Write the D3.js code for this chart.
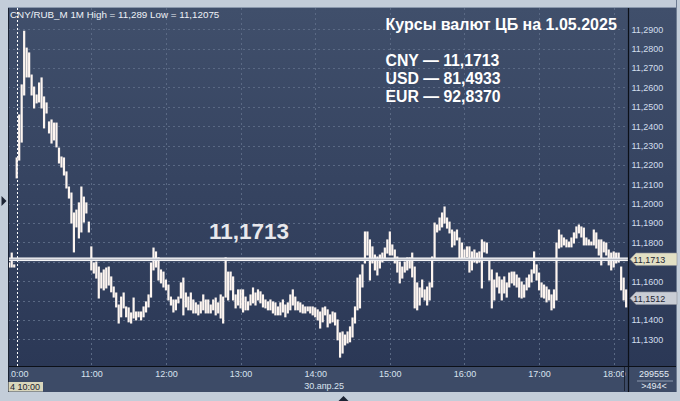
<!DOCTYPE html>
<html><head><meta charset="utf-8">
<script src="https://cdn.jsdelivr.net/npm/d3@7"></script>
<style>html,body{margin:0;padding:0;background:#c3cdd9;overflow:hidden}</style>
</head><body><svg id="c" width="680" height="401"></svg>
<script>
// ---------- data ----------
const startTime = "09:54";        // first 2-minute bar
const barStepMinutes = 2;
const barHigh = [
11.1694,11.1745,11.1684,11.2236,11.2458,11.2613,11.2890,11.2803,11.2778,11.2664,
11.2602,11.2561,11.2623,11.2649,11.2551,11.2520,11.2422,11.2432,11.2416,11.2416,
11.2287,11.2241,11.2236,11.2164,11.2086,11.2055,11.1952,11.1967,11.2004,11.2086,
11.2034,11.2004,11.1905,11.1777,11.1694,11.1699,11.1673,11.1642,11.1658,11.1668,
11.1673,11.1622,11.1570,11.1539,11.1477,11.1518,11.1539,11.1467,11.1462,11.1436,
11.1513,11.1441,11.1441,11.1441,11.1467,11.1493,11.1529,11.1694,11.1771,11.1751,
11.1720,11.1658,11.1647,11.1606,11.1580,11.1518,11.1503,11.1503,11.1518,11.1591,
11.1616,11.1539,11.1518,11.1539,11.1503,11.1488,11.1477,11.1493,11.1529,11.1503,
11.1503,11.1477,11.1503,11.1513,11.1488,11.1529,11.1518,11.1720,11.1647,11.1647,
11.1622,11.1529,11.1555,11.1555,11.1555,11.1518,11.1493,11.1529,11.1565,11.1539,
11.1555,11.1545,11.1529,11.1503,11.1493,11.1503,11.1493,11.1488,11.1467,11.1488,
11.1503,11.1477,11.1488,11.1529,11.1555,11.1518,11.1493,11.1488,11.1477,11.1467,
11.1467,11.1467,11.1467,11.1462,11.1452,11.1441,11.1462,11.1467,11.1452,11.1426,
11.1441,11.1436,11.1400,11.1333,11.1338,11.1322,11.1338,11.1364,11.1410,11.1467,
11.1616,11.1632,11.1684,11.1854,11.1854,11.1813,11.1777,11.1735,11.1725,11.1735,
11.1745,11.1771,11.1813,11.1854,11.1787,11.1761,11.1725,11.1699,11.1673,11.1699,
11.1720,11.1720,11.1745,11.1673,11.1591,11.1565,11.1606,11.1555,11.1570,11.1591,
11.1725,11.1900,11.1890,11.1926,11.1952,11.1983,11.1926,11.1905,11.1864,11.1854,
11.1864,11.1823,11.1797,11.1761,11.1777,11.1777,11.1751,11.1761,11.1745,11.1751,
11.1813,11.1802,11.1797,11.1709,11.1658,11.1606,11.1642,11.1622,11.1606,11.1622,
11.1591,11.1642,11.1647,11.1647,11.1632,11.1616,11.1596,11.1580,11.1616,11.1632,
11.1658,11.1751,11.1684,11.1642,11.1591,11.1580,11.1570,11.1555,11.1529,11.1555,
11.1797,11.1864,11.1838,11.1823,11.1813,11.1802,11.1823,11.1849,11.1880,11.1890,
11.1880,11.1874,11.1823,11.1813,11.1802,11.1864,11.1849,11.1813,11.1813,11.1802,
11.1797,11.1761,11.1745,11.1751,11.1745,11.1745,11.1673,11.1616,11.1555
];
const barLow = [
11.1673,11.1673,11.1673,11.2133,11.2225,11.2318,11.2561,11.2654,11.2654,11.2561,
11.2494,11.2520,11.2525,11.2494,11.2391,11.2468,11.2365,11.2313,11.2329,11.2293,
11.2210,11.2189,11.2148,11.2081,11.2029,11.1900,11.1751,11.1880,11.1823,11.1854,
11.1905,11.1952,11.1854,11.1658,11.1642,11.1616,11.1513,11.1565,11.1555,11.1565,
11.1580,11.1545,11.1518,11.1467,11.1384,11.1416,11.1462,11.1416,11.1390,11.1384,
11.1410,11.1400,11.1416,11.1400,11.1416,11.1441,11.1467,11.1518,11.1658,11.1673,
11.1606,11.1591,11.1570,11.1555,11.1503,11.1477,11.1441,11.1452,11.1488,11.1513,
11.1426,11.1467,11.1452,11.1452,11.1436,11.1436,11.1426,11.1436,11.1452,11.1436,
11.1436,11.1436,11.1452,11.1426,11.1436,11.1410,11.1384,11.1518,11.1503,11.1555,
11.1503,11.1462,11.1477,11.1462,11.1441,11.1452,11.1452,11.1477,11.1488,11.1477,
11.1503,11.1488,11.1467,11.1462,11.1452,11.1452,11.1436,11.1426,11.1426,11.1426,
11.1441,11.1416,11.1436,11.1452,11.1477,11.1452,11.1452,11.1441,11.1436,11.1436,
11.1447,11.1436,11.1426,11.1416,11.1400,11.1358,11.1390,11.1426,11.1364,11.1384,
11.1390,11.1374,11.1297,11.1208,11.1229,11.1271,11.1281,11.1287,11.1312,11.1384,
11.1452,11.1462,11.1570,11.1694,11.1735,11.1606,11.1694,11.1658,11.1632,11.1668,
11.1699,11.1709,11.1745,11.1735,11.1735,11.1694,11.1647,11.1591,11.1616,11.1647,
11.1658,11.1668,11.1622,11.1462,11.1452,11.1477,11.1518,11.1503,11.1477,11.1503,
11.1570,11.1709,11.1854,11.1864,11.1880,11.1900,11.1874,11.1849,11.1777,11.1787,
11.1813,11.1709,11.1720,11.1709,11.1725,11.1647,11.1658,11.1699,11.1694,11.1699,
11.1565,11.1751,11.1745,11.1606,11.1462,11.1503,11.1570,11.1539,11.1503,11.1539,
11.1518,11.1570,11.1591,11.1580,11.1570,11.1518,11.1513,11.1518,11.1555,11.1570,
11.1596,11.1642,11.1606,11.1555,11.1518,11.1513,11.1493,11.1503,11.1452,11.1462,
11.1503,11.1771,11.1777,11.1787,11.1777,11.1777,11.1777,11.1797,11.1823,11.1849,
11.1828,11.1787,11.1787,11.1787,11.1787,11.1787,11.1771,11.1735,11.1684,11.1751,
11.1735,11.1684,11.1658,11.1673,11.1694,11.1699,11.1555,11.1503,11.1467
];
const yTicks = [11.13,11.14,11.15,11.16,11.17,11.18,11.19,11.20,11.21,11.22,11.23,11.24,11.25,11.26,11.27,11.28,11.29];
const hourLabels = ["10:00","11:00","12:00","13:00","14:00","15:00","16:00","17:00","18:00"];
const dateLabel = "30.апр.25";
const cursorLabel = "4 10:00";
const cbrRate = 11.1713;
const lastClose = 11.1512;
const headerText = "CNY/RUB_M 1M High = 11,289 Low = 11,12075";
const titleText = "Курсы валют ЦБ на 1.05.2025";
const rateLines = ["CNY — 11,1713", "USD — 81,4933", "EUR — 92,8370"];
const barCountText = "299555";
const visibleBarsText = ">494<";

// ---------- layout ----------
const svg = d3.select("#c");
const FONT = "'Liberation Sans', Arial, sans-serif";
const L = 8, R = 628, T = 8, B = 366, PR = 677, PB = 392;
const parseT = d3.timeParse("%H:%M");
const t0 = parseT(startTime);
const bars = barHigh.map((h, i) => ({ t: d3.timeMinute.offset(t0, i * barStepMinutes), h, l: barLow[i] }));
const hours = hourLabels.map(parseT);

const x = d3.scaleTime().domain([parseT("10:00"), parseT("18:00")]).range([16.7, 613.7]);
const y = d3.scaleLinear().domain([11.13, 11.29]).range([339.3, 29.3]);
const fmt4 = v => d3.format(".4f")(v).replace(".", ",");

const defs = svg.append("defs");
const grad = defs.append("linearGradient").attr("id", "bg").attr("x1", 0).attr("y1", 0).attr("x2", 0).attr("y2", 1);
grad.append("stop").attr("offset", 0).attr("stop-color", "#404f6b");
grad.append("stop").attr("offset", 1).attr("stop-color", "#2b3856");
defs.append("clipPath").attr("id", "plotClip").append("rect").attr("x", L).attr("y", T).attr("width", R - L).attr("height", B - T);
defs.append("clipPath").attr("id", "axClip").append("rect").attr("x", 10.4).attr("y", B).attr("width", R - 10.4).attr("height", PB - B);

// outer background
svg.append("rect").attr("width", 680).attr("height", 401).attr("fill", "#c3cdd9");
// panel
svg.append("rect").attr("x", L).attr("y", T).attr("width", PR - L).attr("height", B - T).attr("fill", "url(#bg)");
svg.append("rect").attr("x", L).attr("y", B).attr("width", PR - L).attr("height", PB - B).attr("fill", "#3d4b67");

// grid
const grid = svg.append("g").attr("clip-path", "url(#plotClip)");
grid.selectAll(".hg").data(yTicks).join("line")
  .attr("x1", L).attr("x2", R).attr("y1", d => Math.round(y(d)) + 0.5).attr("y2", d => Math.round(y(d)) + 0.5)
  .attr("stroke", "#5a6984").attr("stroke-width", 1).attr("stroke-dasharray", "2,3");
grid.selectAll(".vg").data(hours).join("line")
  .attr("x1", d => Math.round(x(d)) + 0.5).attr("x2", d => Math.round(x(d)) + 0.5).attr("y1", T).attr("y2", B)
  .attr("stroke", (d, i) => i === 0 ? "#ffffff" : "#5a6984").attr("stroke-width", 1)
  .attr("stroke-dasharray", (d, i) => i === 0 ? "2,2" : "2,3");

// bars
const plot = svg.append("g").attr("clip-path", "url(#plotClip)");
plot.selectAll(".bar").data(bars).join("rect")
  .attr("x", d => x(d.t) - 1.1).attr("width", 2.2)
  .attr("y", d => y(d.h) - 0.5)
  .attr("height", d => Math.max(y(d.l) - y(d.h) + 1, 2))
  .attr("fill", "#fdf5f0");

// CBR rate line
const yr = y(cbrRate);
plot.append("rect").attr("x", L).attr("width", R - L).attr("y", yr - 1.8).attr("height", 3.6).attr("fill", "#f4f4f6");
plot.append("line").attr("x1", L).attr("x2", R).attr("y1", yr).attr("y2", yr).attr("stroke", "#a9adb8").attr("stroke-width", 1);

plot.append("text").attr("x", 209).attr("y", 239.3).text(fmt4(cbrRate))
  .attr("fill", "#e8e8ec").style("font", `bold 22.5px ${FONT}`);

// header
svg.append("text").attr("x", 10).attr("y", 18.3).text(headerText)
  .attr("fill", "#eef2f7").style("font", `9.8px ${FONT}`);

// title block
svg.append("text").attr("x", 385.5).attr("y", 29.8).text(titleText)
  .attr("fill", "#ffffff").style("font", `bold 16px ${FONT}`);
svg.selectAll(".rate").data(rateLines).join("text")
  .attr("x", 385.5).attr("y", (d, i) => 66.2 + i * 17.8).text(d => d)
  .attr("fill", "#ffffff").style("font", `bold 15.8px ${FONT}`);

// frame lines
svg.append("line").attr("x1", L).attr("x2", PR).attr("y1", B + 0.5).attr("y2", B + 0.5).attr("stroke", "#0c1018").attr("stroke-width", 1.2);
svg.append("line").attr("x1", R + 0.5).attr("x2", R + 0.5).attr("y1", T).attr("y2", PB).attr("stroke", "#0c1018").attr("stroke-width", 1.2);
svg.append("line").attr("x1", L + 0.5).attr("x2", L + 0.5).attr("y1", T).attr("y2", PB).attr("stroke", "#1a2232").attr("stroke-width", 1);
svg.append("line").attr("x1", L).attr("x2", PR).attr("y1", T - 0.5).attr("y2", T - 0.5).attr("stroke", "#8a98ac").attr("stroke-width", 1);
svg.append("line").attr("x1", PR - 0.5).attr("x2", PR - 0.5).attr("y1", 0).attr("y2", PB).attr("stroke", "#6e7c92").attr("stroke-width", 1);

// y axis (labels hidden under the price tags are not drawn, as in the original)
const tagValues = [cbrRate, lastClose];
const shownTicks = yTicks.filter(t => tagValues.every(v => Math.abs(y(t) - y(v)) > 9));
const yAxis = d3.axisRight(y).tickValues(shownTicks).tickSize(0).tickPadding(3.5).tickFormat(fmt4);
const gy = svg.append("g").attr("transform", `translate(${R},0)`).call(yAxis);
gy.select(".domain").remove();
gy.selectAll("text").attr("fill", "#d2deec").style("font", `9px ${FONT}`);

// price tags
function tag(v, fill) {
  const yy = y(v);
  svg.append("path")
    .attr("d", `M${R + 2},${yy} L${R + 8},${yy - 6.3} L${PR},${yy - 6.3} L${PR},${yy + 6.3} L${R + 8},${yy + 6.3} Z`)
    .attr("fill", fill).attr("stroke", "#8d919a").attr("stroke-width", 0.6);
  svg.append("text").attr("x", R + 5.3).attr("y", yy + 3.3).text(fmt4(v))
    .attr("fill", "#1f2633").style("font", `9px ${FONT}`);
}
tag(cbrRate, "#e2e0c4");
tag(lastClose, "#c9cdd5");

// x axis (clipped to the plot width, the way the terminal cuts the first label)
const xWrap = svg.append("g").attr("clip-path", "url(#axClip)");
const xAxis = d3.axisBottom(x).tickValues(hours).tickSize(0).tickPadding(5).tickFormat(d3.timeFormat("%H:%M"));
const gx = xWrap.append("g").attr("transform", `translate(0,${B})`).call(xAxis);
gx.select(".domain").remove();
gx.selectAll("text").attr("fill", "#d8e2ee").style("font", `9px ${FONT}`).attr("dy", null).attr("y", 11.3);

// date label under 14:00
svg.append("text").attr("x", x(hours[4]) - 11).attr("y", 388.5).text(dateLabel)
  .attr("fill", "#d8e2ee").style("font", `9px ${FONT}`);

// cursor label box (bottom left)
svg.append("rect").attr("x", L + 0.5).attr("y", 382).attr("width", 34.5).attr("height", 9.5).attr("fill", "#d9d6bc");
svg.append("text").attr("x", 40).attr("y", 389.6).attr("text-anchor", "end").text(cursorLabel)
  .attr("fill", "#1c2230").style("font", `9px ${FONT}`);

// current bar cursor in axis strip
svg.append("line").attr("x1", 624.5).attr("x2", 624.5).attr("y1", B + 1).attr("y2", PB - 1).attr("stroke", "#1d2434").attr("stroke-width", 1);

// bottom right info
svg.append("text").attr("x", 654).attr("y", 377).attr("text-anchor", "middle").text(barCountText)
  .attr("fill", "#e4ecf4").style("font", `9px ${FONT}`);
svg.append("line").attr("x1", 637).attr("x2", 673).attr("y1", 381).attr("y2", 381).attr("stroke", "#8d9ab0").attr("stroke-width", 1);
svg.append("text").attr("x", 654).attr("y", 389.3).attr("text-anchor", "middle").text(visibleBarsText)
  .attr("fill", "#e4ecf4").style("font", `9px ${FONT}`);

// small markers on outer frame
svg.append("path").attr("d", "M1.5,196 L6.5,201 L1.5,206 Z").attr("fill", "#1c2434");
svg.append("path").attr("d", "M338.5,401 L343.5,396 L348.5,401 Z").attr("fill", "#1c2434");
</script>
</body></html>
